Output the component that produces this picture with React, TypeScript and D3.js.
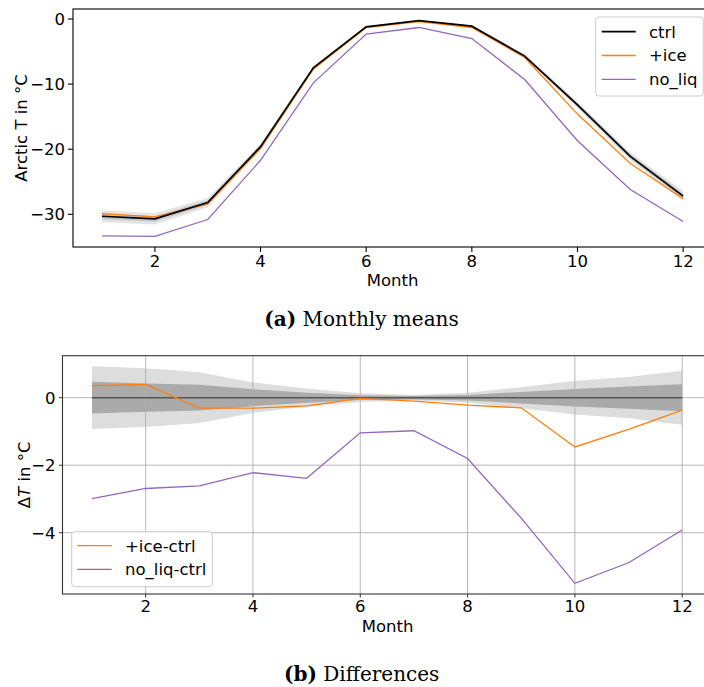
import React from "react";
import * as d3 from "d3";

const months = [1, 2, 3, 4, 5, 6, 7, 8, 9, 10, 11, 12];
const ctrl = [-30.3, -30.7, -28.2, -19.6, -7.5, -1.2, -0.25, -1.1, -5.7, -13.2, -21.1, -27.2];
const ice = [-29.9, -30.4, -28.4, -19.9, -7.7, -1.3, -0.4, -1.3, -5.9, -14.6, -22.2, -27.6];
const noLiq = [-33.3, -33.4, -30.8, -21.7, -9.8, -2.3, -1.3, -3.0, -9.3, -18.7, -26.2, -31.1];

const iceDiff = [0.36, 0.39, -0.31, -0.31, -0.24, -0.02, -0.1, -0.22, -0.3, -1.46, -0.94, -0.37];
const noLiqDiff = [-2.99, -2.69, -2.61, -2.22, -2.39, -1.04, -0.98, -1.8, -3.57, -5.5, -4.89, -3.92];

const outerSpread = [0.93, 0.87, 0.75, 0.45, 0.27, 0.13, 0.08, 0.15, 0.31, 0.5, 0.61, 0.8];
const innerSpread = [0.47, 0.42, 0.38, 0.25, 0.15, 0.07, 0.05, 0.08, 0.17, 0.26, 0.33, 0.4];

const xTicks = [2, 4, 6, 8, 10, 12];
const yTicksTop = [0, -10, -20, -30];
const yTicksBottom = [0, -2, -4];

const ORANGE = "#ff7f0e";
const PURPLE = "#9467bd";
const FONT = "DejaVu Sans";
const FS = 16.5;

const fmt = (v: number) => (v < 0 ? "\u2212" + Math.abs(v) : String(v));

export default function App() {
  // Top panel scales
  const xT = d3.scaleLinear().domain([0.45, 12.55]).range([73, 712.2]);
  const yT = d3.scaleLinear().domain([-35.02, 1.54]).range([247, 9]);
  // Bottom panel scales
  const xB = d3.scaleLinear().domain([0.45, 12.55]).range([62.5, 711.7]);
  const yB = d3.scaleLinear().domain([-5.816, 1.244]).range([594, 355.7]);

  const lineT = (vals: number[]) =>
    d3.line<number>().x((_, i) => xT(months[i])).y((d) => yT(d))(vals) || "";
  const lineB = (vals: number[]) =>
    d3.line<number>().x((_, i) => xB(months[i])).y((d) => yB(d))(vals) || "";
  const bandT = (spread: number[]) =>
    d3
      .area<number>()
      .x((_, i) => xT(months[i]))
      .y0((d, i) => yT(ctrl[i] - spread[i]))
      .y1((d, i) => yT(ctrl[i] + spread[i]))(spread) || "";
  const bandB = (spread: number[]) =>
    d3
      .area<number>()
      .x((_, i) => xB(months[i]))
      .y0((d) => yB(-d))
      .y1((d) => yB(d))(spread) || "";

  const tTop = yT.range()[1];
  const tBot = yT.range()[0];
  const bTop = yB.range()[1];
  const bBot = yB.range()[0];

  return (
    <svg
      width={704}
      height={687}
      style={{ position: "absolute", left: 0, top: 0, background: "#fff" }}
      fontFamily={FONT}
    >
      <rect x={0} y={0} width={704} height={687} fill="#fff" />
      {/* ---------- Top panel ---------- */}
      <g>
        <path d={bandT(outerSpread)} fill="#e4e4e4" />
        <path d={bandT(innerSpread)} fill="#c4c4c4" />
        <path d={lineT(noLiq)} fill="none" stroke={PURPLE} strokeWidth={1.3} />
        <path d={lineT(ice)} fill="none" stroke={ORANGE} strokeWidth={1.3} />
        <path d={lineT(ctrl)} fill="none" stroke="#000" strokeWidth={1.7} />
        <rect
          x={xT.range()[0]}
          y={tTop}
          width={xT.range()[1] - xT.range()[0]}
          height={tBot - tTop}
          fill="none"
          stroke="#000"
          strokeWidth={1.1}
        />
        {xTicks.map((t) => (
          <g key={"xt" + t}>
            <line x1={xT(t)} x2={xT(t)} y1={tBot} y2={tBot + 5} stroke="#000" strokeWidth={1.1} />
            <text x={xT(t)} y={tBot + 20} textAnchor="middle" fontSize={FS}>
              {t}
            </text>
          </g>
        ))}
        {yTicksTop.map((t) => (
          <g key={"yt" + t}>
            <line x1={73 - 5} x2={73} y1={yT(t)} y2={yT(t)} stroke="#000" strokeWidth={1.1} />
            <text x={73 - 8} y={yT(t)} dy="0.36em" textAnchor="end" fontSize={FS}>
              {fmt(t)}
            </text>
          </g>
        ))}
        <text x={392.5} y={285.5} textAnchor="middle" fontSize={FS}>
          Month
        </text>
        <text
          transform={`translate(27,${(tTop + tBot) / 2}) rotate(-90)`}
          textAnchor="middle"
          fontSize={FS}
        >
          Arctic T in °C
        </text>
        {/* Legend */}
        <rect x={595.7} y={17} width={107.6} height={79} rx={3} fill="#fff" fillOpacity={0.85} stroke="#cccccc" strokeWidth={1} />
        {[
          { label: "ctrl", color: "#000", w: 1.7 },
          { label: "+ice", color: ORANGE, w: 1.3 },
          { label: "no_liq", color: PURPLE, w: 1.3 },
        ].map((e, i) => {
          const y = 31.7 + i * 23.8;
          return (
            <g key={e.label}>
              <line x1={601.7} x2={635.7} y1={y} y2={y} stroke={e.color} strokeWidth={e.w} />
              <text x={649} y={y} dy="0.36em" fontSize={FS}>
                {e.label}
              </text>
            </g>
          );
        })}
      </g>
      <text x={361.5} y={326} textAnchor="middle" fontSize={20} fontFamily="DejaVu Serif">
        <tspan fontWeight="bold">(a)</tspan> Monthly means
      </text>

      {/* ---------- Bottom panel ---------- */}
      <g>
        <path d={bandB(outerSpread)} fill="#dddddd" />
        <path d={bandB(innerSpread)} fill="#aaaaaa" />
        {xTicks.map((t) => (
          <line key={"gx" + t} x1={xB(t)} x2={xB(t)} y1={bTop} y2={bBot} stroke="#b0b0b0" strokeWidth={1} opacity={0.9} />
        ))}
        {yTicksBottom.map((t) => (
          <line key={"gy" + t} x1={xB.range()[0]} x2={xB.range()[1]} y1={yB(t)} y2={yB(t)} stroke="#b0b0b0" strokeWidth={1} opacity={0.9} />
        ))}
        <line x1={xB(1)} x2={xB(12)} y1={yB(0)} y2={yB(0)} stroke="#555555" strokeWidth={1.5} />
        <path d={lineB(noLiqDiff)} fill="none" stroke={PURPLE} strokeWidth={1.3} />
        <path d={lineB(iceDiff)} fill="none" stroke={ORANGE} strokeWidth={1.3} />
        <rect
          x={xB.range()[0]}
          y={bTop}
          width={xB.range()[1] - xB.range()[0]}
          height={bBot - bTop}
          fill="none"
          stroke="#333"
          strokeWidth={1.1}
        />
        {xTicks.map((t) => (
          <g key={"bxt" + t}>
            <line x1={xB(t)} x2={xB(t)} y1={bBot} y2={bBot + 3.5} stroke="#333" strokeWidth={1} />
            <text x={xB(t)} y={bBot + 17.5} textAnchor="middle" fontSize={FS}>
              {t}
            </text>
          </g>
        ))}
        {yTicksBottom.map((t) => (
          <g key={"byt" + t}>
            <line x1={xB.range()[0] - 3.5} x2={xB.range()[0]} y1={yB(t)} y2={yB(t)} stroke="#333" strokeWidth={1} />
            <text x={xB.range()[0] - 7} y={yB(t)} dy="0.36em" textAnchor="end" fontSize={FS}>
              {fmt(t)}
            </text>
          </g>
        ))}
        <text x={387.5} y={632} textAnchor="middle" fontSize={FS}>
          Month
        </text>
        <text
          transform={`translate(30,${(bTop + bBot) / 2}) rotate(-90)`}
          textAnchor="middle"
          fontSize={FS}
        >
          Δ<tspan fontStyle="italic">T</tspan> in °C
        </text>
        {/* Legend */}
        <rect x={71.7} y={531.7} width={140.6} height={55} rx={3} fill="#fff" fillOpacity={0.85} stroke="#cccccc" strokeWidth={1} />
        {[
          { label: "+ice-ctrl", color: ORANGE },
          { label: "no_liq-ctrl", color: PURPLE },
        ].map((e, i) => {
          const y = 545.7 + i * 23.6;
          return (
            <g key={e.label}>
              <line x1={77.3} x2={111.7} y1={y} y2={y} stroke={e.color} strokeWidth={1.3} />
              <text x={125} y={y} dy="0.36em" fontSize={FS}>
                {e.label}
              </text>
            </g>
          );
        })}
      </g>
      <text x={361.7} y={681} textAnchor="middle" fontSize={20} fontFamily="DejaVu Serif">
        <tspan fontWeight="bold">(b)</tspan> Differences
      </text>
    </svg>
  );
}
